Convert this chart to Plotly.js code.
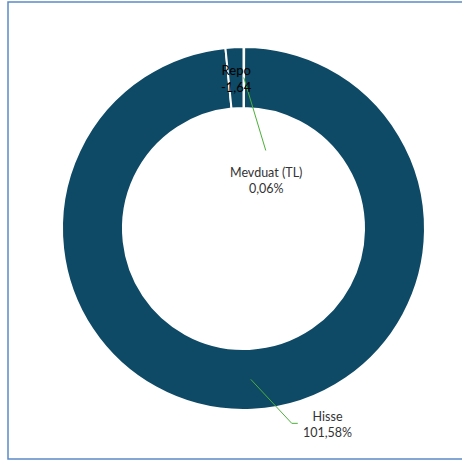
<!DOCTYPE html>
<html>
<head>
<meta charset="utf-8">
<script src="https://cdn.plot.ly/plotly-3.0.1.min.js"></script>
<style>html,body{margin:0;padding:0;background:#fff;}#chart{width:462px;height:461px;}</style>
</head>
<body>
<div id="chart"></div>
<script>
// Data
const labels = ['Mevduat (TL)', 'Hisse', 'Repo'];
const values = [0.06, 101.58, -1.64];
const valueText = ['0,06%', '101,58%', '-1,64'];

// Layout constants (pixels)
const W = 462, H = 461;
const CX = 243.5, CY = 228.5, R_OUT = 181.5, HOLE = 0.664;
const R_MID = R_OUT * (1 + HOLE) / 2;
const px = x => x / W;
const py = y => 1 - y / H;

const absVals = values.map(Math.abs);
const total = absVals.reduce((a, b) => a + b, 0);

// Slice mid-angle anchors (clockwise from 12 o'clock)
let cum = 0;
const anchors = absVals.map(v => {
  const mid = (cum + v / 2) / total * 2 * Math.PI;
  cum += v;
  return [CX + R_MID * Math.sin(mid), CY - R_MID * Math.cos(mid)];
});

// Label placement styles: offset of leader end / label from anchor
const labelStyle = {
  'Mevduat (TL)': {leader: [[22, 73]], label: [22, 103], color: '#333333', size: 12.5},
  'Hisse': {leader: [[41, 44], [47, 44]], label: [77, 45], color: '#333333', size: 12.5},
  'Repo': {leader: [], label: [1, 1], color: '#000000', size: 13}
};

const shapes = [{
  type: 'rect', xref: 'paper', yref: 'paper',
  x0: px(8), x1: px(480), y0: py(459), y1: py(2),
  line: {color: '#5b8ac6', width: 1.5}, fillcolor: 'rgba(0,0,0,0)', layer: 'below'
}];
const annotations = [];

labels.forEach((lab, i) => {
  const st = labelStyle[lab];
  const [ax, ay] = anchors[i];
  let prev = [ax, ay];
  st.leader.forEach(o => {
    const p = [ax + o[0], ay + o[1]];
    shapes.push({type: 'line', xref: 'paper', yref: 'paper',
      x0: px(prev[0]), y0: py(prev[1]), x1: px(p[0]), y1: py(p[1]),
      line: {color: '#4caf3a', width: 1}});
    prev = p;
  });
  annotations.push({
    xref: 'paper', yref: 'paper',
    x: px(ax + st.label[0]), y: py(ay + st.label[1]),
    xanchor: 'center', yanchor: 'middle', showarrow: false,
    text: lab + '<br>' + valueText[i],
    font: {family: 'Lato, Carlito, "Liberation Sans", sans-serif', size: st.size, color: st.color},
    align: 'center'
  });
});

const trace = {
  type: 'pie',
  labels: labels,
  values: absVals,
  sort: false,
  direction: 'clockwise',
  rotation: 0,
  hole: HOLE,
  textinfo: 'none',
  hoverinfo: 'label+text',
  text: valueText,
  marker: {colors: ['#0e4a66', '#0e4a66', '#0e4a66'], line: {color: '#ffffff', width: 2}},
  domain: {x: [px(CX - R_OUT), px(CX + R_OUT)], y: [py(CY + R_OUT), py(CY - R_OUT)]},
  showlegend: false
};

Plotly.newPlot('chart', [trace], {
  width: W, height: H,
  margin: {l: 0, r: 0, t: 0, b: 0},
  paper_bgcolor: '#ffffff',
  showlegend: false,
  shapes: shapes,
  annotations: annotations
}, {displayModeBar: false, staticPlot: true});
</script>
</body>
</html>
